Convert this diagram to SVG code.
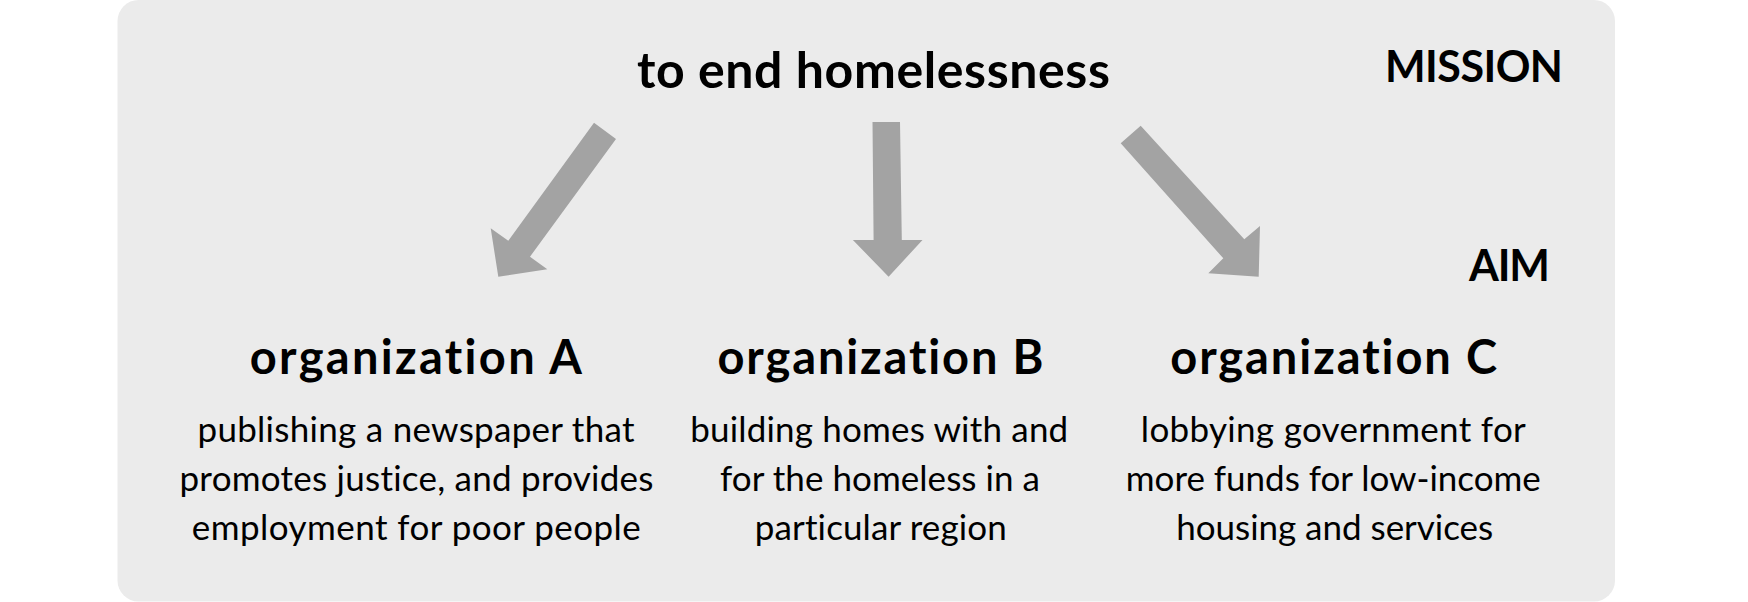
<svg xmlns="http://www.w3.org/2000/svg" width="1748" height="602" viewBox="0 0 1748 602">
  <style>
    .bg { fill: #ebebeb; }
    .arrow { fill: #a3a3a3; stroke: none; }
    text { fill: #000000; font-family: Lato, "Open Sans", "Liberation Sans", sans-serif; text-anchor: middle; font-variant-ligatures: none; font-feature-settings: "liga" 0, "dlig" 0; }
    .mission { font-size: 50px; font-weight: 700; }
    .label { font-size: 43px; font-weight: 700; }
    .org { font-size: 47px; font-weight: 700; }
    .body { font-size: 35px; font-weight: 400; }
  </style>
  <rect class="bg" x="117.5" y="0" width="1497.5" height="601.5" rx="21" ry="21"/>

  <g id="connectors">
    <polygon id="arrow-a" class="arrow" points="594,122.7 616,139 530,256.7 547.3,269.3 498.3,276.7 490.7,228.3 508.3,240.7"/>
    <polygon id="arrow-b" class="arrow" points="872.5,122 900,122 901.8,240 922.5,240 888.6,276.7 852.9,240 873.6,240"/>
    <polygon id="arrow-c" class="arrow" points="1140.7,125.7 1244.3,239.3 1260,226 1258.7,276.7 1208.3,273.3 1223.3,258.3 1120.7,143.3"/>
  </g>

  <g id="mission">
    <text class="mission" x="873.4" y="87.7" textLength="473">to end homelessness</text>
  </g>

  <g id="label-mission">
    <text class="label" x="1474" y="82" textLength="178">MISSION</text>
  </g>

  <g id="label-aim">
    <text class="label" x="1509.5" y="281" textLength="81">AIM</text>
  </g>

  <g id="org-a">
    <text class="org" x="415.8" y="374" textLength="332">organization A</text>
    <text class="body" x="416" y="442" textLength="437">publishing a newspaper that</text>
    <text class="body" x="416.5" y="491" textLength="474">promotes justice, and provides</text>
    <text class="body" x="416.3" y="540" textLength="449">employment for poor people</text>
  </g>

  <g id="org-b">
    <text class="org" x="880.5" y="374" textLength="326">organization B</text>
    <text class="body" x="879.2" y="442" textLength="378">building homes with and</text>
    <text class="body" x="880" y="491" textLength="320">for the homeless in a</text>
    <text class="body" x="880.8" y="540" textLength="252">particular region</text>
  </g>

  <g id="org-c">
    <text class="org" x="1333.7" y="374" textLength="327">organization C</text>
    <text class="body" x="1333.3" y="442" textLength="385">lobbying government for</text>
    <text class="body" x="1333.3" y="491" textLength="415">more funds for low-income</text>
    <text class="body" x="1334.7" y="540" textLength="317">housing and services</text>
  </g>
</svg>
